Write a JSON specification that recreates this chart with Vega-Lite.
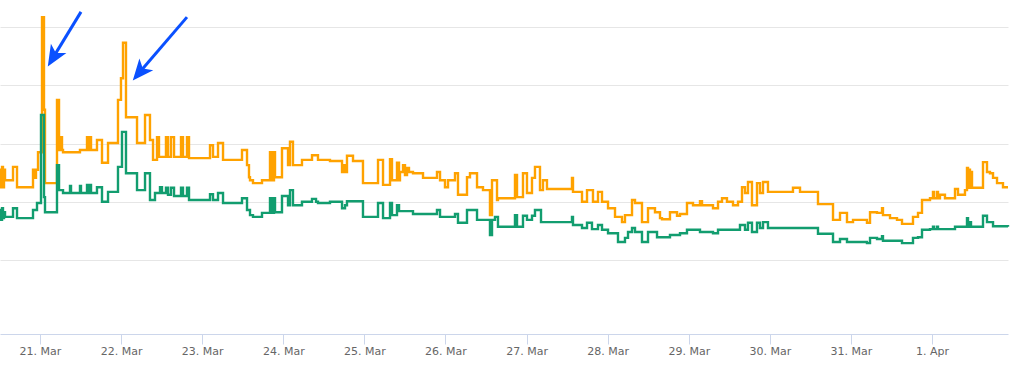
{
  "$schema": "https://vega.github.io/schema/vega-lite/v6.json",
  "width": 1008,
  "height": 334,
  "padding": {"left": 0, "top": 0, "right": 3, "bottom": 32},
  "autosize": {"type": "none"},
  "background": "white",
  "config": {"view": {"stroke": null}},
  "datasets": {
    "series": [
      {"s":"o","t":"2024-03-20T12:10Z","v":35.5},{"s":"o","t":"2024-03-20T12:28Z","v":32.5},{"s":"o","t":"2024-03-20T12:46Z","v":36.0},{"s":"o","t":"2024-03-20T13:03Z","v":32.5},{"s":"o","t":"2024-03-20T13:21Z","v":35.5},{"s":"o","t":"2024-03-20T13:39Z","v":33.7},{"s":"o","t":"2024-03-20T16:01Z","v":36.0},{"s":"o","t":"2024-03-20T17:12Z","v":32.5},{"s":"o","t":"2024-03-20T21:56Z","v":35.5},{"s":"o","t":"2024-03-20T22:31Z","v":34.1},{"s":"o","t":"2024-03-20T22:49Z","v":35.5},{"s":"o","t":"2024-03-20T23:25Z","v":38.5},
      {"s":"o","t":"2024-03-21T00:36Z","v":61.7},{"s":"o","t":"2024-03-21T01:11Z","v":45.8},{"s":"o","t":"2024-03-21T01:29Z","v":33.2},{"s":"o","t":"2024-03-21T05:02Z","v":47.5},{"s":"o","t":"2024-03-21T05:38Z","v":38.9},{"s":"o","t":"2024-03-21T06:13Z","v":41.1},{"s":"o","t":"2024-03-21T06:31Z","v":38.9},{"s":"o","t":"2024-03-21T06:49Z","v":38.5},{"s":"o","t":"2024-03-21T11:50Z","v":38.9},{"s":"o","t":"2024-03-21T13:55Z","v":41.1},{"s":"o","t":"2024-03-21T14:13Z","v":38.9},{"s":"o","t":"2024-03-21T14:48Z","v":41.1},{"s":"o","t":"2024-03-21T15:06Z","v":38.9},{"s":"o","t":"2024-03-21T16:52Z","v":40.6},{"s":"o","t":"2024-03-21T18:21Z","v":36.7},{"s":"o","t":"2024-03-21T20:08Z","v":40.1},{"s":"o","t":"2024-03-21T23:05Z","v":47.5},{"s":"o","t":"2024-03-21T23:58Z","v":51.2},
      {"s":"o","t":"2024-03-22T00:34Z","v":57.3},{"s":"o","t":"2024-03-22T01:27Z","v":44.5},{"s":"o","t":"2024-03-22T04:43Z","v":40.1},{"s":"o","t":"2024-03-22T07:05Z","v":44.9},{"s":"o","t":"2024-03-22T08:33Z","v":40.6},{"s":"o","t":"2024-03-22T09:27Z","v":37.2},{"s":"o","t":"2024-03-22T10:38Z","v":41.1},{"s":"o","t":"2024-03-22T11:13Z","v":37.7},{"s":"o","t":"2024-03-22T13:17Z","v":41.1},{"s":"o","t":"2024-03-22T13:53Z","v":37.7},{"s":"o","t":"2024-03-22T14:46Z","v":41.1},{"s":"o","t":"2024-03-22T15:40Z","v":37.7},{"s":"o","t":"2024-03-22T17:44Z","v":41.1},{"s":"o","t":"2024-03-22T18:19Z","v":37.7},{"s":"o","t":"2024-03-22T19:30Z","v":41.1},{"s":"o","t":"2024-03-22T20:06Z","v":37.5},
      {"s":"o","t":"2024-03-23T02:19Z","v":39.7},{"s":"o","t":"2024-03-23T03:12Z","v":37.7},{"s":"o","t":"2024-03-23T04:41Z","v":40.1},{"s":"o","t":"2024-03-23T06:10Z","v":37.2},{"s":"o","t":"2024-03-23T11:47Z","v":38.9},{"s":"o","t":"2024-03-23T13:16Z","v":36.3},{"s":"o","t":"2024-03-23T13:51Z","v":34.2},{"s":"o","t":"2024-03-23T14:09Z","v":33.7},{"s":"o","t":"2024-03-23T15:02Z","v":33.2},{"s":"o","t":"2024-03-23T17:42Z","v":33.7},{"s":"o","t":"2024-03-23T20:04Z","v":38.5},{"s":"o","t":"2024-03-23T20:40Z","v":33.7},{"s":"o","t":"2024-03-23T21:15Z","v":38.5},{"s":"o","t":"2024-03-23T21:33Z","v":34.2},{"s":"o","t":"2024-03-23T23:37Z","v":39.2},
      {"s":"o","t":"2024-03-24T01:24Z","v":36.3},{"s":"o","t":"2024-03-24T01:59Z","v":40.3},{"s":"o","t":"2024-03-24T02:52Z","v":36.3},{"s":"o","t":"2024-03-24T05:32Z","v":37.2},{"s":"o","t":"2024-03-24T08:30Z","v":38.0},{"s":"o","t":"2024-03-24T10:16Z","v":37.2},{"s":"o","t":"2024-03-24T13:49Z","v":37.0},{"s":"o","t":"2024-03-24T17:23Z","v":35.1},{"s":"o","t":"2024-03-24T17:58Z","v":36.3},{"s":"o","t":"2024-03-24T18:16Z","v":35.1},{"s":"o","t":"2024-03-24T18:51Z","v":37.9},{"s":"o","t":"2024-03-24T20:38Z","v":37.0},{"s":"o","t":"2024-03-24T23:35Z","v":33.2},
      {"s":"o","t":"2024-03-25T04:02Z","v":37.2},{"s":"o","t":"2024-03-25T05:31Z","v":32.9},{"s":"o","t":"2024-03-25T07:35Z","v":37.3},{"s":"o","t":"2024-03-25T08:10Z","v":33.7},{"s":"o","t":"2024-03-25T09:39Z","v":36.7},{"s":"o","t":"2024-03-25T10:15Z","v":33.7},{"s":"o","t":"2024-03-25T10:32Z","v":35.1},{"s":"o","t":"2024-03-25T11:26Z","v":36.3},{"s":"o","t":"2024-03-25T12:01Z","v":34.6},{"s":"o","t":"2024-03-25T12:37Z","v":35.8},{"s":"o","t":"2024-03-25T13:12Z","v":35.1},{"s":"o","t":"2024-03-25T14:23Z","v":34.9},{"s":"o","t":"2024-03-25T17:21Z","v":34.1},{"s":"o","t":"2024-03-25T21:29Z","v":35.1},{"s":"o","t":"2024-03-25T22:23Z","v":33.7},{"s":"o","t":"2024-03-25T23:51Z","v":32.5},
      {"s":"o","t":"2024-03-26T00:45Z","v":33.7},{"s":"o","t":"2024-03-26T02:49Z","v":34.9},{"s":"o","t":"2024-03-26T03:42Z","v":31.2},{"s":"o","t":"2024-03-26T06:22Z","v":34.2},{"s":"o","t":"2024-03-26T07:15Z","v":34.9},{"s":"o","t":"2024-03-26T09:20Z","v":32.5},{"s":"o","t":"2024-03-26T11:06Z","v":32.0},{"s":"o","t":"2024-03-26T13:10Z","v":27.7},{"s":"o","t":"2024-03-26T13:46Z","v":33.7},{"s":"o","t":"2024-03-26T15:15Z","v":30.3},{"s":"o","t":"2024-03-26T15:32Z","v":30.6},{"s":"o","t":"2024-03-26T20:34Z","v":34.6},{"s":"o","t":"2024-03-26T21:10Z","v":30.8},{"s":"o","t":"2024-03-26T22:56Z","v":34.9},
      {"s":"o","t":"2024-03-27T00:07Z","v":31.5},{"s":"o","t":"2024-03-27T01:36Z","v":34.1},{"s":"o","t":"2024-03-27T02:29Z","v":36.0},{"s":"o","t":"2024-03-27T03:58Z","v":32.0},{"s":"o","t":"2024-03-27T04:51Z","v":33.7},{"s":"o","t":"2024-03-27T06:02Z","v":32.2},{"s":"o","t":"2024-03-27T13:26Z","v":34.1},{"s":"o","t":"2024-03-27T13:44Z","v":31.7},{"s":"o","t":"2024-03-27T16:24Z","v":30.0},{"s":"o","t":"2024-03-27T17:53Z","v":32.0},{"s":"o","t":"2024-03-27T19:39Z","v":30.0},{"s":"o","t":"2024-03-27T21:08Z","v":31.7},{"s":"o","t":"2024-03-27T22:19Z","v":30.0},
      {"s":"o","t":"2024-03-28T00:06Z","v":28.9},{"s":"o","t":"2024-03-28T02:10Z","v":27.4},{"s":"o","t":"2024-03-28T04:14Z","v":26.5},{"s":"o","t":"2024-03-28T05:07Z","v":27.7},{"s":"o","t":"2024-03-28T07:12Z","v":30.3},{"s":"o","t":"2024-03-28T08:05Z","v":29.8},{"s":"o","t":"2024-03-28T10:09Z","v":26.5},{"s":"o","t":"2024-03-28T11:56Z","v":28.9},{"s":"o","t":"2024-03-28T14:00Z","v":28.2},{"s":"o","t":"2024-03-28T15:29Z","v":27.2},{"s":"o","t":"2024-03-28T16:04Z","v":27.0},{"s":"o","t":"2024-03-28T18:26Z","v":28.2},{"s":"o","t":"2024-03-28T20:31Z","v":27.6},{"s":"o","t":"2024-03-28T21:24Z","v":27.9},{"s":"o","t":"2024-03-28T23:28Z","v":29.8},
      {"s":"o","t":"2024-03-29T01:15Z","v":29.4},{"s":"o","t":"2024-03-29T03:19Z","v":30.1},{"s":"o","t":"2024-03-29T03:55Z","v":29.4},{"s":"o","t":"2024-03-29T07:10Z","v":28.9},{"s":"o","t":"2024-03-29T08:39Z","v":30.0},{"s":"o","t":"2024-03-29T09:50Z","v":30.6},{"s":"o","t":"2024-03-29T11:18Z","v":30.0},{"s":"o","t":"2024-03-29T13:05Z","v":29.4},{"s":"o","t":"2024-03-29T14:34Z","v":30.0},{"s":"o","t":"2024-03-29T15:45Z","v":32.5},{"s":"o","t":"2024-03-29T16:38Z","v":31.5},{"s":"o","t":"2024-03-29T17:31Z","v":33.4},{"s":"o","t":"2024-03-29T18:42Z","v":29.4},{"s":"o","t":"2024-03-29T20:11Z","v":33.2},{"s":"o","t":"2024-03-29T21:04Z","v":31.5},{"s":"o","t":"2024-03-29T21:58Z","v":33.4},{"s":"o","t":"2024-03-29T23:26Z","v":31.7},
      {"s":"o","t":"2024-03-30T06:50Z","v":32.4},{"s":"o","t":"2024-03-30T08:55Z","v":31.7},{"s":"o","t":"2024-03-30T14:14Z","v":29.6},{"s":"o","t":"2024-03-30T18:41Z","v":26.9},{"s":"o","t":"2024-03-30T20:45Z","v":28.1},{"s":"o","t":"2024-03-30T22:49Z","v":26.5},
      {"s":"o","t":"2024-03-31T00:36Z","v":26.9},{"s":"o","t":"2024-03-31T04:44Z","v":26.4},{"s":"o","t":"2024-03-31T05:38Z","v":28.2},{"s":"o","t":"2024-03-31T07:42Z","v":28.1},{"s":"o","t":"2024-03-31T09:11Z","v":28.9},{"s":"o","t":"2024-03-31T09:28Z","v":27.7},{"s":"o","t":"2024-03-31T11:33Z","v":27.2},{"s":"o","t":"2024-03-31T13:37Z","v":26.9},{"s":"o","t":"2024-03-31T15:06Z","v":26.2},{"s":"o","t":"2024-03-31T18:21Z","v":27.4},{"s":"o","t":"2024-03-31T19:50Z","v":28.1},{"s":"o","t":"2024-03-31T21:01Z","v":30.3},{"s":"o","t":"2024-03-31T23:23Z","v":30.6},
      {"s":"o","t":"2024-04-01T00:16Z","v":31.7},{"s":"o","t":"2024-04-01T00:34Z","v":30.6},{"s":"o","t":"2024-04-01T01:27Z","v":31.7},{"s":"o","t":"2024-04-01T01:45Z","v":30.6},{"s":"o","t":"2024-04-01T02:20Z","v":31.2},{"s":"o","t":"2024-04-01T03:49Z","v":30.6},{"s":"o","t":"2024-04-01T06:47Z","v":32.2},{"s":"o","t":"2024-04-01T07:40Z","v":31.2},{"s":"o","t":"2024-04-01T09:44Z","v":32.0},{"s":"o","t":"2024-04-01T10:20Z","v":35.8},{"s":"o","t":"2024-04-01T10:38Z","v":32.4},{"s":"o","t":"2024-04-01T10:55Z","v":35.5},{"s":"o","t":"2024-04-01T11:13Z","v":32.4},{"s":"o","t":"2024-04-01T11:31Z","v":35.1},{"s":"o","t":"2024-04-01T11:49Z","v":32.4},{"s":"o","t":"2024-04-01T15:04Z","v":36.8},{"s":"o","t":"2024-04-01T16:15Z","v":35.1},{"s":"o","t":"2024-04-01T17:08Z","v":34.9},{"s":"o","t":"2024-04-01T18:02Z","v":34.1},{"s":"o","t":"2024-04-01T19:13Z","v":33.2},{"s":"o","t":"2024-04-01T20:59Z","v":32.5},{"s":"o","t":"2024-04-01T22:28Z","v":32.5},

      {"s":"g","t":"2024-03-20T12:10Z","v":28.6},{"s":"g","t":"2024-03-20T12:28Z","v":26.9},{"s":"g","t":"2024-03-20T12:46Z","v":28.9},{"s":"g","t":"2024-03-20T13:03Z","v":27.2},{"s":"g","t":"2024-03-20T13:21Z","v":28.2},{"s":"g","t":"2024-03-20T13:39Z","v":27.4},{"s":"g","t":"2024-03-20T16:01Z","v":28.9},{"s":"g","t":"2024-03-20T17:12Z","v":27.2},{"s":"g","t":"2024-03-20T21:56Z","v":28.6},{"s":"g","t":"2024-03-20T23:07Z","v":29.8},
      {"s":"g","t":"2024-03-21T00:18Z","v":44.9},{"s":"g","t":"2024-03-21T01:11Z","v":30.8},{"s":"g","t":"2024-03-21T01:29Z","v":28.2},{"s":"g","t":"2024-03-21T05:02Z","v":36.3},{"s":"g","t":"2024-03-21T05:38Z","v":32.0},{"s":"g","t":"2024-03-21T06:49Z","v":31.5},{"s":"g","t":"2024-03-21T08:53Z","v":32.7},{"s":"g","t":"2024-03-21T09:11Z","v":31.5},{"s":"g","t":"2024-03-21T11:50Z","v":32.7},{"s":"g","t":"2024-03-21T12:08Z","v":31.5},{"s":"g","t":"2024-03-21T13:55Z","v":32.9},{"s":"g","t":"2024-03-21T14:13Z","v":31.5},{"s":"g","t":"2024-03-21T14:48Z","v":32.9},{"s":"g","t":"2024-03-21T15:06Z","v":31.5},{"s":"g","t":"2024-03-21T16:52Z","v":32.5},{"s":"g","t":"2024-03-21T18:21Z","v":30.0},{"s":"g","t":"2024-03-21T20:08Z","v":31.7},{"s":"g","t":"2024-03-21T23:05Z","v":36.0},
      {"s":"g","t":"2024-03-22T00:16Z","v":42.0},{"s":"g","t":"2024-03-22T01:27Z","v":34.9},{"s":"g","t":"2024-03-22T04:43Z","v":32.0},{"s":"g","t":"2024-03-22T07:05Z","v":34.9},{"s":"g","t":"2024-03-22T08:33Z","v":30.3},{"s":"g","t":"2024-03-22T10:02Z","v":31.5},{"s":"g","t":"2024-03-22T11:31Z","v":32.5},{"s":"g","t":"2024-03-22T12:06Z","v":31.5},{"s":"g","t":"2024-03-22T13:17Z","v":32.4},{"s":"g","t":"2024-03-22T13:53Z","v":31.2},{"s":"g","t":"2024-03-22T14:46Z","v":32.4},{"s":"g","t":"2024-03-22T15:40Z","v":31.0},{"s":"g","t":"2024-03-22T17:44Z","v":32.4},{"s":"g","t":"2024-03-22T18:19Z","v":31.0},{"s":"g","t":"2024-03-22T19:30Z","v":32.4},{"s":"g","t":"2024-03-22T20:06Z","v":30.3},
      {"s":"g","t":"2024-03-23T02:19Z","v":31.3},{"s":"g","t":"2024-03-23T03:12Z","v":30.3},{"s":"g","t":"2024-03-23T04:41Z","v":31.5},{"s":"g","t":"2024-03-23T06:10Z","v":29.8},{"s":"g","t":"2024-03-23T11:47Z","v":30.6},{"s":"g","t":"2024-03-23T13:16Z","v":28.6},{"s":"g","t":"2024-03-23T14:09Z","v":27.7},{"s":"g","t":"2024-03-23T15:02Z","v":27.4},{"s":"g","t":"2024-03-23T17:42Z","v":28.1},{"s":"g","t":"2024-03-23T20:04Z","v":30.6},{"s":"g","t":"2024-03-23T20:40Z","v":28.1},{"s":"g","t":"2024-03-23T21:15Z","v":30.6},{"s":"g","t":"2024-03-23T21:33Z","v":28.2},{"s":"g","t":"2024-03-23T23:37Z","v":31.0},
      {"s":"g","t":"2024-03-24T01:24Z","v":29.4},{"s":"g","t":"2024-03-24T01:59Z","v":32.0},{"s":"g","t":"2024-03-24T02:52Z","v":29.4},{"s":"g","t":"2024-03-24T05:32Z","v":30.0},{"s":"g","t":"2024-03-24T08:30Z","v":30.5},{"s":"g","t":"2024-03-24T09:41Z","v":30.0},{"s":"g","t":"2024-03-24T10:16Z","v":29.8},{"s":"g","t":"2024-03-24T13:49Z","v":30.0},{"s":"g","t":"2024-03-24T17:23Z","v":28.9},{"s":"g","t":"2024-03-24T18:16Z","v":29.4},{"s":"g","t":"2024-03-24T18:51Z","v":30.1},{"s":"g","t":"2024-03-24T23:35Z","v":27.4},
      {"s":"g","t":"2024-03-25T04:02Z","v":29.8},{"s":"g","t":"2024-03-25T05:31Z","v":27.2},{"s":"g","t":"2024-03-25T07:35Z","v":29.8},{"s":"g","t":"2024-03-25T08:10Z","v":27.7},{"s":"g","t":"2024-03-25T09:39Z","v":29.4},{"s":"g","t":"2024-03-25T10:15Z","v":28.4},{"s":"g","t":"2024-03-25T14:23Z","v":27.9},{"s":"g","t":"2024-03-25T21:29Z","v":28.6},{"s":"g","t":"2024-03-25T22:23Z","v":27.4},
      {"s":"g","t":"2024-03-26T02:49Z","v":27.9},{"s":"g","t":"2024-03-26T03:42Z","v":26.4},{"s":"g","t":"2024-03-26T06:22Z","v":28.6},{"s":"g","t":"2024-03-26T09:20Z","v":26.9},{"s":"g","t":"2024-03-26T13:10Z","v":24.3},{"s":"g","t":"2024-03-26T13:46Z","v":26.9},{"s":"g","t":"2024-03-26T14:39Z","v":27.4},{"s":"g","t":"2024-03-26T15:32Z","v":25.7},{"s":"g","t":"2024-03-26T20:34Z","v":27.7},{"s":"g","t":"2024-03-26T21:10Z","v":25.7},{"s":"g","t":"2024-03-26T22:56Z","v":27.6},
      {"s":"g","t":"2024-03-27T00:07Z","v":26.9},{"s":"g","t":"2024-03-27T01:36Z","v":27.6},{"s":"g","t":"2024-03-27T02:29Z","v":28.6},{"s":"g","t":"2024-03-27T04:16Z","v":26.5},{"s":"g","t":"2024-03-27T13:26Z","v":27.4},{"s":"g","t":"2024-03-27T13:44Z","v":26.0},{"s":"g","t":"2024-03-27T16:24Z","v":25.5},{"s":"g","t":"2024-03-27T17:53Z","v":26.4},{"s":"g","t":"2024-03-27T19:21Z","v":25.3},{"s":"g","t":"2024-03-27T21:08Z","v":26.0},{"s":"g","t":"2024-03-27T22:19Z","v":25.2},
      {"s":"g","t":"2024-03-28T00:06Z","v":24.6},{"s":"g","t":"2024-03-28T03:03Z","v":23.1},{"s":"g","t":"2024-03-28T05:07Z","v":23.8},{"s":"g","t":"2024-03-28T06:01Z","v":24.8},{"s":"g","t":"2024-03-28T07:12Z","v":25.5},{"s":"g","t":"2024-03-28T08:05Z","v":24.8},{"s":"g","t":"2024-03-28T10:09Z","v":23.1},{"s":"g","t":"2024-03-28T11:56Z","v":24.8},{"s":"g","t":"2024-03-28T14:36Z","v":23.9},{"s":"g","t":"2024-03-28T18:26Z","v":24.3},{"s":"g","t":"2024-03-28T21:24Z","v":24.6},{"s":"g","t":"2024-03-28T23:28Z","v":25.2},
      {"s":"g","t":"2024-03-29T03:19Z","v":24.8},{"s":"g","t":"2024-03-29T07:10Z","v":24.6},{"s":"g","t":"2024-03-29T08:39Z","v":25.2},{"s":"g","t":"2024-03-29T15:09Z","v":26.0},{"s":"g","t":"2024-03-29T16:38Z","v":25.2},{"s":"g","t":"2024-03-29T17:31Z","v":26.4},{"s":"g","t":"2024-03-29T18:42Z","v":24.8},{"s":"g","t":"2024-03-29T20:11Z","v":26.4},{"s":"g","t":"2024-03-29T21:04Z","v":25.5},{"s":"g","t":"2024-03-29T21:58Z","v":26.5},{"s":"g","t":"2024-03-29T23:26Z","v":25.5},
      {"s":"g","t":"2024-03-30T14:14Z","v":24.5},{"s":"g","t":"2024-03-30T18:41Z","v":23.1},{"s":"g","t":"2024-03-30T20:45Z","v":23.6},{"s":"g","t":"2024-03-30T22:49Z","v":23.1},
      {"s":"g","t":"2024-03-31T04:44Z","v":22.9},{"s":"g","t":"2024-03-31T05:38Z","v":23.8},{"s":"g","t":"2024-03-31T07:42Z","v":23.6},{"s":"g","t":"2024-03-31T09:11Z","v":24.1},{"s":"g","t":"2024-03-31T09:28Z","v":23.3},{"s":"g","t":"2024-03-31T15:06Z","v":22.9},{"s":"g","t":"2024-03-31T18:21Z","v":23.8},{"s":"g","t":"2024-03-31T19:50Z","v":23.9},{"s":"g","t":"2024-03-31T21:01Z","v":25.2},{"s":"g","t":"2024-03-31T23:23Z","v":25.3},
      {"s":"g","t":"2024-04-01T00:16Z","v":25.7},{"s":"g","t":"2024-04-01T00:34Z","v":25.3},{"s":"g","t":"2024-04-01T01:27Z","v":25.7},{"s":"g","t":"2024-04-01T01:45Z","v":25.3},{"s":"g","t":"2024-04-01T06:47Z","v":25.7},{"s":"g","t":"2024-04-01T10:20Z","v":27.2},{"s":"g","t":"2024-04-01T10:38Z","v":25.7},{"s":"g","t":"2024-04-01T11:13Z","v":26.5},{"s":"g","t":"2024-04-01T11:31Z","v":25.7},{"s":"g","t":"2024-04-01T15:04Z","v":27.6},{"s":"g","t":"2024-04-01T16:15Z","v":26.5},{"s":"g","t":"2024-04-01T18:02Z","v":25.8},{"s":"g","t":"2024-04-01T22:28Z","v":25.7}
    ],
    "arrows": [
      {"id": 1, "t": "2024-03-21T12:08Z", "v": 62.6, "t2": "2024-03-21T04:09Z", "v2": 55.0},
      {"id": 2, "t": "2024-03-22T19:30Z", "v": 61.7, "t2": "2024-03-22T05:45Z", "v2": 52.4}
    ]
  },
  "layer": [
    {
      "data": {"name": "series"},
      "mark": {"type": "line", "interpolate": "step-after", "strokeWidth": 2.4},
      "encoding": {
        "x": {
          "field": "t", "type": "temporal",
          "scale": {"type": "utc", "domain": [
            {"year": 2024, "month": 3, "date": 20, "hours": 12, "minutes": 10, "utc": true},
            {"year": 2024, "month": 4, "date": 1, "hours": 22, "minutes": 28, "utc": true}
          ]},
          "axis": {
            "title": null, "format": "%-d. %b", "tickCount": {"interval": "day", "step": 1},
            "grid": false, "domainColor": "#ccd6eb", "tickColor": "#ccd6eb", "tickSize": 10,
            "labelColor": "#666666", "labelFont": "DejaVu Sans", "labelFontSize": 11,
            "labelPadding": 1, "labelFlush": false, "labelOverlap": false
          }
        },
        "y": {
          "field": "v", "type": "quantitative",
          "scale": {"domain": [7.3, 64.64], "nice": false, "zero": false},
          "axis": {"title": null, "labels": false, "ticks": false, "domain": false, "grid": true,
                   "values": [20, 30, 40, 50, 60], "gridColor": "#e6e6e6", "gridWidth": 1}
        },
        "color": {"field": "s", "type": "nominal",
                  "scale": {"domain": ["g", "o"], "range": ["#129d6f", "#ffa200"]}, "legend": null}
      }
    },
    {
      "data": {"name": "arrows"},
      "mark": {"type": "rule", "color": "#0a50ff", "strokeWidth": 3},
      "encoding": {
        "x": {"field": "t", "type": "temporal"},
        "x2": {"field": "t2"},
        "y": {"field": "v", "type": "quantitative"},
        "y2": {"field": "v2"}
      }
    },
    {
      "data": {"name": "arrows"},
      "transform": [{"filter": "datum.id == 1"}],
      "mark": {"type": "point", "shape": "M0,-1L0.75,0.75L0,0.3L-0.75,0.75Z", "filled": true, "size": 580, "color": "#0a50ff", "opacity": 1, "angle": 211},
      "encoding": {
        "x": {"field": "t2", "type": "temporal"},
        "y": {"field": "v2", "type": "quantitative"}
      }
    },
    {
      "data": {"name": "arrows"},
      "transform": [{"filter": "datum.id == 2"}],
      "mark": {"type": "point", "shape": "M0,-1L0.75,0.75L0,0.3L-0.75,0.75Z", "filled": true, "size": 580, "color": "#0a50ff", "opacity": 1, "angle": 220},
      "encoding": {
        "x": {"field": "t2", "type": "temporal"},
        "y": {"field": "v2", "type": "quantitative"}
      }
    }
  ]
}
